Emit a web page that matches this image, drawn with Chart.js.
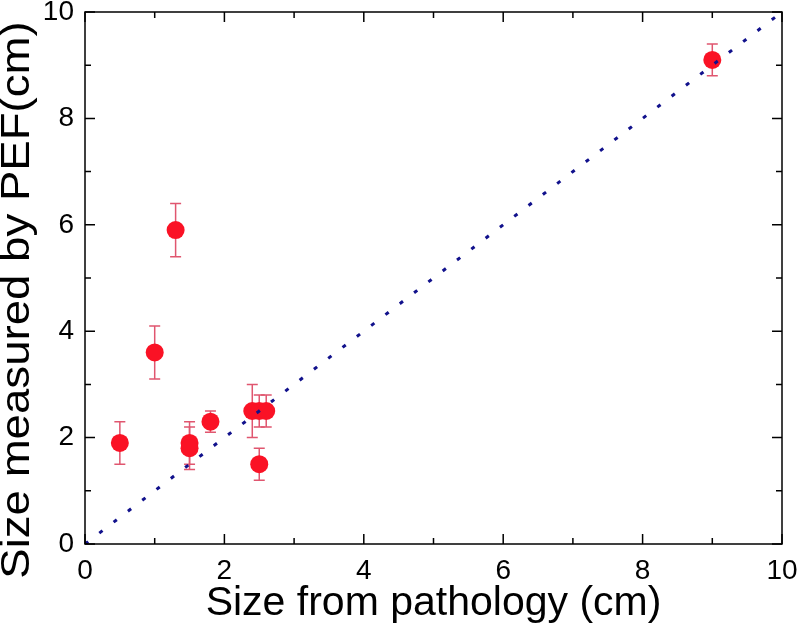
<!DOCTYPE html>
<html>
<head>
<meta charset="utf-8">
<title>Size from pathology vs PEF</title>
<script src="https://cdn.jsdelivr.net/npm/chart.js@4.4.1/dist/chart.umd.min.js"></script>
<style>
  html, body { margin: 0; padding: 0; background: #fff; }
  #wrap { width: 798px; height: 630px; }
</style>
</head>
<body>
<div id="wrap"><canvas id="sizeChart" width="798" height="630"></canvas></div>
<script>
const pathologySize = [0.5, 1.0, 1.3, 1.5, 1.5, 1.8, 2.4, 2.5, 2.6, 2.5, 9.0];
const pefSize = [1.9, 3.6, 5.9, 1.9, 1.8, 2.3, 2.5, 2.5, 2.5, 1.5, 9.1];
const pefError = [0.4, 0.5, 0.5, 0.4, 0.4, 0.2, 0.5, 0.3, 0.3, 0.3, 0.3];
const identityX = [0, 10];
const identityY = [0, 10];
const majorTicks = [0, 2, 4, 6, 8, 10];
const minorTicks = [1, 3, 5, 7, 9];

const FONT = "'Liberation Sans', Arial, Helvetica, sans-serif";

const errorBars = {
  id: "errorBars",
  beforeDatasetsDraw(chart) {
    const { ctx, scales } = chart;
    ctx.save();
    ctx.strokeStyle = "#e0566f";
    ctx.lineWidth = 1.5;
    pathologySize.forEach((x, i) => {
      const px = scales.x.getPixelForValue(x);
      const top = scales.y.getPixelForValue(pefSize[i] + pefError[i]);
      const bot = scales.y.getPixelForValue(pefSize[i] - pefError[i]);
      ctx.beginPath();
      ctx.moveTo(px, top);
      ctx.lineTo(px, bot);
      ctx.moveTo(px - 5.5, top);
      ctx.lineTo(px + 5.5, top);
      ctx.moveTo(px - 5.5, bot);
      ctx.lineTo(px + 5.5, bot);
      ctx.stroke();
    });
    ctx.restore();
  },
};

const frameAndTicks = {
  id: "frameAndTicks",
  afterDatasetsDraw(chart) {
    const { ctx, chartArea: a, scales } = chart;
    ctx.save();
    ctx.strokeStyle = "#000";
    ctx.lineWidth = 1.5;
    ctx.strokeRect(a.left, a.top, a.right - a.left, a.bottom - a.top);
    const mark = (v, len) => {
      const px = scales.x.getPixelForValue(v);
      const py = scales.y.getPixelForValue(v);
      ctx.moveTo(px, a.bottom); ctx.lineTo(px, a.bottom - len);
      ctx.moveTo(px, a.top); ctx.lineTo(px, a.top + len);
      ctx.moveTo(a.left, py); ctx.lineTo(a.left + len, py);
      ctx.moveTo(a.right, py); ctx.lineTo(a.right - len, py);
    };
    ctx.beginPath();
    majorTicks.forEach((v) => mark(v, 10));
    minorTicks.forEach((v) => mark(v, 6));
    ctx.stroke();
    ctx.restore();
  },
  afterDraw(chart) {
    const { ctx } = chart;
    ctx.save();
    ctx.translate(18, 300);
    ctx.rotate(-Math.PI / 2);
    ctx.scale(1.14, 1);
    ctx.font = `40px ${FONT}`;
    ctx.fillStyle = "#000";
    ctx.textAlign = "center";
    ctx.textBaseline = "middle";
    ctx.fillText("Size measured by PEF(cm)", 0, 0);
    ctx.restore();
  },
};

function initChart() {
  const el = document.getElementById("sizeChart");
  if (!el || typeof Chart === "undefined") return null;

  return new Chart(el.getContext("2d"), {
    type: "scatter",
    data: {
      datasets: [
        {
          type: "line",
          data: identityX.map((x, i) => ({ x, y: identityY[i] })),
          borderColor: "#11118c",
          borderWidth: 3,
          borderDash: [4, 14],
          pointRadius: 0,
          fill: false,
          order: 0,
        },
        {
          data: pathologySize.map((x, i) => ({ x, y: pefSize[i] })),
          backgroundColor: "#fa1225",
          borderColor: "#fa1225",
          borderWidth: 0,
          pointRadius: 9,
          pointHoverRadius: 9,
          order: 1,
        },
      ],
    },
    options: {
      responsive: false,
      animation: false,
      events: [],
      layout: { padding: { top: 12, right: 16, left: 0, bottom: 0 } },
      plugins: { legend: { display: false }, tooltip: { enabled: false } },
      scales: {
        x: {
          type: "linear",
          min: 0,
          max: 10,
          afterFit: (s) => { s.height = 86; s.paddingLeft = 0; s.paddingRight = 0; },
          afterBuildTicks: (s) => { s.ticks = majorTicks.map((v) => ({ value: v })); },
          ticks: { color: "#000", font: { family: FONT, size: 28 }, padding: 10, maxRotation: 0 },
          grid: { display: false, drawTicks: false },
          border: { display: false },
          title: {
            display: true,
            text: "Size from pathology (cm)",
            color: "#000",
            font: { family: FONT, size: 41 },
            padding: { top: 0, bottom: 2 },
          },
        },
        y: {
          type: "linear",
          min: 0,
          max: 10,
          afterFit: (s) => { s.width = 85; s.paddingTop = 0; s.paddingBottom = 0; },
          afterBuildTicks: (s) => { s.ticks = majorTicks.map((v) => ({ value: v })); },
          ticks: { color: "#000", font: { family: FONT, size: 28 }, padding: 11 },
          grid: { display: false, drawTicks: false },
          border: { display: false },
        },
      },
    },
    plugins: [errorBars, frameAndTicks],
  });
}

document.addEventListener("DOMContentLoaded", initChart);
</script>
</body>
</html>
